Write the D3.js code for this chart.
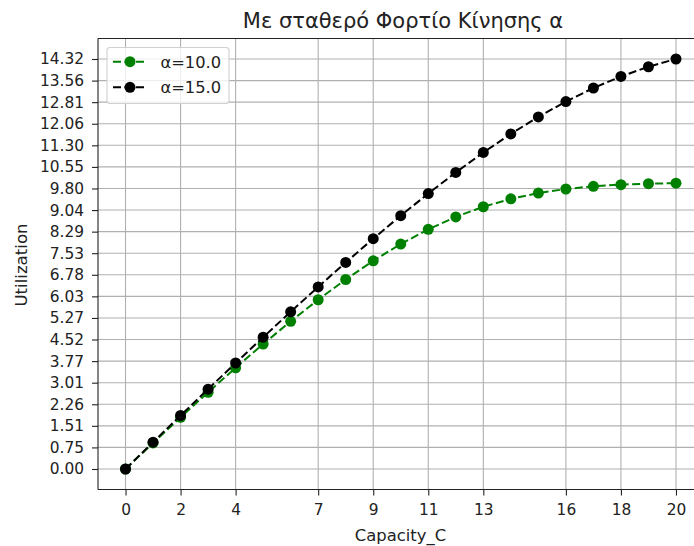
<!DOCTYPE html>
<html><head><meta charset="utf-8">
<script src="https://cdn.jsdelivr.net/npm/d3@7"></script>
<style>body{margin:0;background:#fff}svg{display:block}text{font-family:"DejaVu Sans",sans-serif;fill:#222}</style>
</head><body>
<svg id="c" width="694" height="546"></svg>
<script>
const capacity = [0,1,2,3,4,5,6,7,8,9,10,11,12,13,14,15,16,17,18,19,20];
const util10 = [0,0.909,1.803,2.679,3.533,4.361,5.155,5.910,6.617,7.268,7.854,8.368,8.803,9.157,9.432,9.635,9.777,9.870,9.929,9.963,9.981];
const util15 = [0,0.9375,1.868,2.789,3.701,4.601,5.488,6.359,7.211,8.041,8.845,9.618,10.356,11.052,11.700,12.295,12.831,13.303,13.707,14.045,14.316];
const seriesNames = ["α=10.0","α=15.0"];
const xTicks = [0,2,4,7,9,11,13,16,18,20];
const yTicks = [0,0.7535,1.507,2.260,3.014,3.767,4.521,5.274,6.028,6.781,7.535,8.288,9.041,9.795,10.548,11.302,12.055,12.809,13.562,14.316];
const yTickLabels = ["0.00","0.75","1.51","2.26","3.01","3.77","4.52","5.27","6.03","6.78","7.53","8.29","9.04","9.80","10.55","11.30","12.06","12.81","13.56","14.32"];
const titleText = "Με σταθερό Φορτίο Κίνησης α";

const svg = d3.select("#c");
const L = 98, R = 703.5, T = 38.5, B = 489.5;
const ymax = d3.max(util15), pad = ymax*0.05;
const x = d3.scaleLinear().domain([-1,21]).range([L,R]);
const y = d3.scaleLinear().domain([-pad, ymax+pad]).range([B,T]);

// grid
const g = svg.append("g");
g.selectAll(".gx").data(xTicks).enter().append("line")
 .attr("x1",d=>x(d)).attr("x2",d=>x(d)).attr("y1",T).attr("y2",B)
 .attr("stroke","#b0b0b0").attr("stroke-width",1.1);
g.selectAll(".gy").data(yTicks).enter().append("line")
 .attr("y1",d=>y(d)).attr("y2",d=>y(d)).attr("x1",L).attr("x2",R)
 .attr("stroke","#b0b0b0").attr("stroke-width",1.1);

// axes
const xAxis = d3.axisBottom(x).tickValues(xTicks).tickFormat(d3.format("d")).tickSize(6).tickPadding(8.5);
const yAxis = d3.axisLeft(y).tickValues(yTicks).tickFormat((d,i)=>yTickLabels[i]).tickSize(6).tickPadding(8);
const ax = svg.append("g").attr("transform",`translate(0,${B})`).call(xAxis);
const ay = svg.append("g").attr("transform",`translate(${L},0)`).call(yAxis);
[ax,ay].forEach(a=>{
  a.select(".domain").remove();
  a.selectAll(".tick line").attr("stroke","#222").attr("stroke-width",1.1);
  a.selectAll(".tick text").attr("font-size",15.4).attr("fill","#222").style("font-family","DejaVu Sans");
});
// spines
svg.append("line").attr("x1",L).attr("x2",L).attr("y1",T).attr("y2",B).attr("stroke","#222").attr("stroke-width",1.1);
svg.append("line").attr("x1",L).attr("x2",R).attr("y1",B).attr("y2",B).attr("stroke","#222").attr("stroke-width",1.1);
svg.append("line").attr("x1",L).attr("x2",R).attr("y1",T).attr("y2",T).attr("stroke","#222").attr("stroke-width",1.1);
svg.append("line").attr("x1",R).attr("x2",R).attr("y1",T).attr("y2",B).attr("stroke","#222").attr("stroke-width",1.1);

// series
const series = [{vals:util10,color:"green"},{vals:util15,color:"black"}];
const line = d3.line().x(d=>x(d[0])).y(d=>y(d[1]));
series.forEach(s=>{
  const pts = capacity.map((c,i)=>[c,s.vals[i]]);
  svg.append("path").attr("d",line(pts)).attr("fill","none").attr("stroke",s.color)
    .attr("stroke-width",2).attr("stroke-dasharray","8,3.5");
  svg.append("g").selectAll("circle").data(pts).enter().append("circle")
    .attr("cx",d=>x(d[0])).attr("cy",d=>y(d[1])).attr("r",5.5).attr("fill",s.color);
});

// title & labels
svg.append("text").attr("x",403).attr("y",27.5).attr("text-anchor","middle").attr("font-size",21).text(titleText);
svg.append("text").attr("x",400.5).attr("y",541).attr("text-anchor","middle").attr("font-size",16.4).text("Capacity_C");
svg.append("text").attr("transform","translate(27,265) rotate(-90)").attr("text-anchor","middle").attr("font-size",16.6).text("Utilization");

// legend
const lg = svg.append("g");
lg.append("rect").attr("x",107).attr("y",47.5).attr("width",122).attr("height",56).attr("rx",3)
  .attr("fill","white").attr("fill-opacity",0.8).attr("stroke","#d0d0d0").attr("stroke-width",1.1);
series.forEach((s,i)=>{
  const yy = 61.7 + i*25.6;
  lg.append("line").attr("x1",113).attr("x2",147).attr("y1",yy).attr("y2",yy)
    .attr("stroke",s.color).attr("stroke-width",2).attr("stroke-dasharray","8,3.5");
  lg.append("circle").attr("cx",130).attr("cy",yy).attr("r",5.5).attr("fill",s.color);
  lg.append("text").attr("x",160.5).attr("y",yy+5.8).attr("font-size",16.3).text(seriesNames[i]);
});
</script>
</body></html>
